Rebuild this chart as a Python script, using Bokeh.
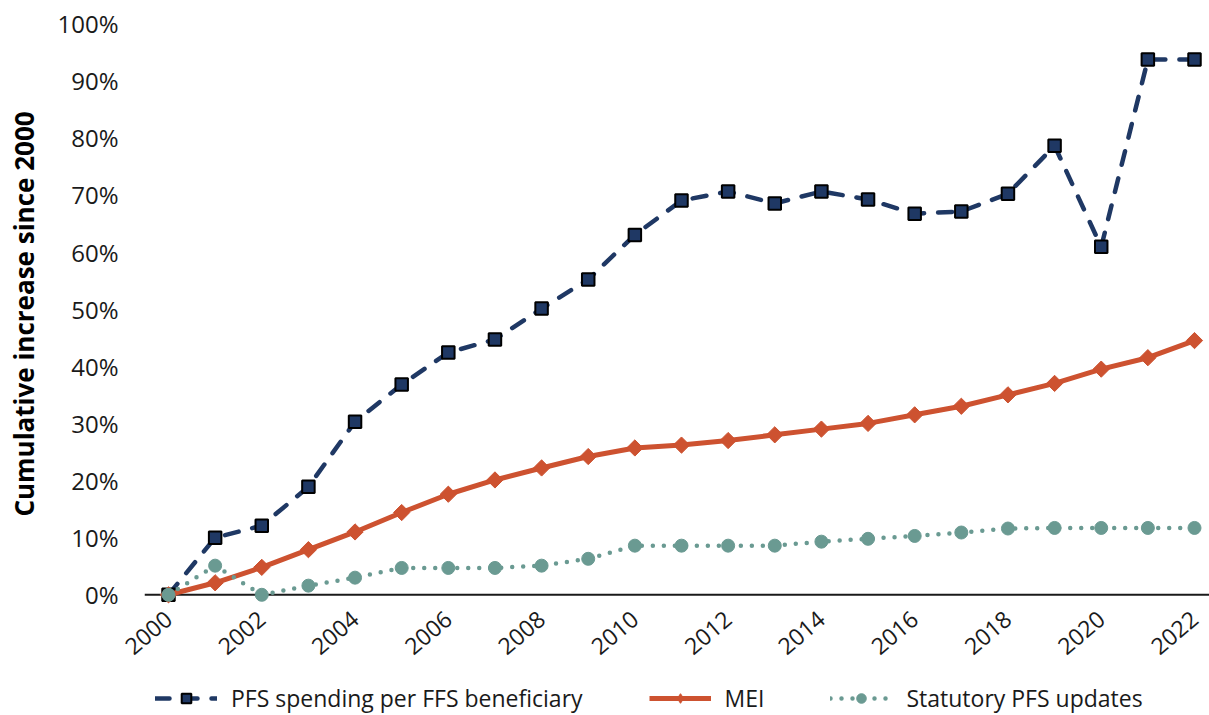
import math
from bokeh.plotting import figure
from bokeh.layouts import column
from bokeh.models import (FixedTicker, PrintfTickFormatter, Span, Legend, LegendItem,
                          ColumnDataSource, Range1d)
from bokeh.embed import file_html
from bokeh.resources import INLINE

# ---- data (cumulative % increase since 2000) ----
years = list(range(2000, 2023))
pfs_spending = [0.0, 10.0, 12.1, 18.9, 30.3, 36.8, 42.4, 44.7, 50.1, 55.2, 63.0, 69.0,
                70.6, 68.5, 70.6, 69.2, 66.7, 67.1, 70.2, 78.6, 60.9, 93.7, 93.7]
mei = [0.0, 2.1, 4.8, 7.9, 11.0, 14.4, 17.6, 20.1, 22.2, 24.2, 25.7, 26.2,
       27.0, 28.0, 29.0, 30.0, 31.5, 33.0, 35.0, 37.0, 39.5, 41.5, 44.5]
statutory = [0.0, 5.1, 0.0, 1.6, 3.0, 4.7, 4.7, 4.7, 5.1, 6.3, 8.6, 8.6,
             8.6, 8.6, 9.3, 9.8, 10.3, 10.9, 11.6, 11.7, 11.7, 11.7, 11.7]
x_ticks = list(range(2000, 2023, 2))
x_tick_labels = [str(y) for y in x_ticks]
y_ticks = list(range(0, 101, 10))
series_names = ["PFS spending per FFS beneficiary", "MEI", "Statutory PFS updates"]
y_title = "Cumulative increase since 2000"

BLUE = "#1F3864"
ORANGE = "#CD5230"
TEAL = "#6A9A92"
TXT = "#1a1a1a"
FONT = "Open Sans"

STYLES = [
    dict(line=dict(line_color=BLUE, line_width=4.5, line_dash="14 14", line_cap="round"),
         mark=dict(marker="square", size=12.5, fill_color=BLUE, line_color="black", line_width=2)),
    dict(line=dict(line_color=ORANGE, line_width=5),
         mark=dict(marker="square", angle=math.pi / 4, size=11.5, fill_color=ORANGE,
                   line_color=ORANGE, line_width=1)),
    dict(line=dict(line_color=TEAL, line_width=4.5, line_dash="0 11", line_cap="round"),
         mark=dict(marker="circle", size=13, fill_color=TEAL, line_color=TEAL, line_width=1)),
]
# legend markers (legend ignores marker angle, so the MEI key uses a diamond)
LEGEND_MARKS = [
    STYLES[0]["mark"],
    dict(marker="diamond", size=12, fill_color=ORANGE, line_color=ORANGE, line_width=1),
    STYLES[2]["mark"],
]

p = figure(width=1209, height=680, output_backend="svg", toolbar_location=None,
           x_range=(1999.4854, 2022.3217), y_range=(-1.7, 100),
           min_border_left=144, min_border_right=0, min_border_top=23,
           min_border_bottom=76)
p.outline_line_color = None
p.background_fill_color = "white"
p.border_fill_color = "white"
p.xgrid.visible = False
p.ygrid.visible = False

src = ColumnDataSource(dict(x=years, pfs=pfs_spending, mei=mei, stat=statutory))

zero = Span(location=0, dimension="width", line_color=TXT, line_width=2, level="underlay")
p.add_layout(zero)

for col, st in zip(["pfs", "mei", "stat"], STYLES):
    p.line("x", col, source=src, **st["line"])
    p.scatter("x", col, source=src, **st["mark"])

# axes
p.yaxis.ticker = FixedTicker(ticks=y_ticks)
p.yaxis.formatter = PrintfTickFormatter(format="%d%%")
p.yaxis.axis_line_color = None
p.yaxis.major_tick_line_color = None
p.yaxis.minor_tick_line_color = None
p.yaxis.major_label_standoff = 20
p.yaxis.major_label_text_font = FONT
p.yaxis.major_label_text_font_size = "24px"
p.yaxis.major_label_text_color = TXT
p.yaxis.axis_label = y_title
p.yaxis.axis_label_text_font = FONT
p.yaxis.axis_label_text_font_style = "bold"
p.yaxis.axis_label_text_font_size = "26px"
p.yaxis.axis_label_text_color = "black"
p.yaxis.axis_label_standoff = 12

p.xaxis.ticker = FixedTicker(ticks=x_ticks)
p.xaxis.major_label_overrides = {t: l for t, l in zip(x_ticks, x_tick_labels)}
p.xaxis.axis_line_color = None
p.xaxis.major_tick_line_color = None
p.xaxis.minor_tick_line_color = None
p.xaxis.major_label_orientation = 0.7
p.xaxis.major_label_standoff = 5
p.xaxis.major_label_text_font = FONT
p.xaxis.major_label_text_font_size = "23px"
p.xaxis.major_label_text_color = TXT

# ---- legend strip (separate small figure so the legend is not clipped) ----
# the series are drawn here too, but the ranges keep them out of view;
# only their legend glyphs show.
lg = figure(width=1209, height=34, output_backend="svg", toolbar_location=None,
            x_range=Range1d(0, 1), y_range=Range1d(0, 1),
            x_axis_location=None, y_axis_location=None,
            min_border_left=0, min_border_right=0, min_border_top=0, min_border_bottom=0)
lg.outline_line_color = None
lg.xgrid.visible = False
lg.ygrid.visible = False
items = []
for name, col, st, mk in zip(series_names, ["pfs", "mei", "stat"], STYLES, LEGEND_MARKS):
    lr = lg.line("x", col, source=src, **st["line"])
    mr = lg.scatter("x", col, source=src, **mk)
    items.append(LegendItem(label=name, renderers=[lr, mr]))

legend = Legend(items=items, orientation="horizontal", location=(11, 0),
                border_line_color=None, background_fill_alpha=0,
                padding=0, margin=0, spacing=66,
                glyph_width=62, glyph_height=24, label_height=24,
                label_standoff=14,
                label_text_font=FONT, label_text_font_size="23px",
                label_text_color=TXT)
lg.add_layout(legend, "center")

layout = column(p, lg, spacing=0)
open("out.html", "w").write(file_html(layout, INLINE))
